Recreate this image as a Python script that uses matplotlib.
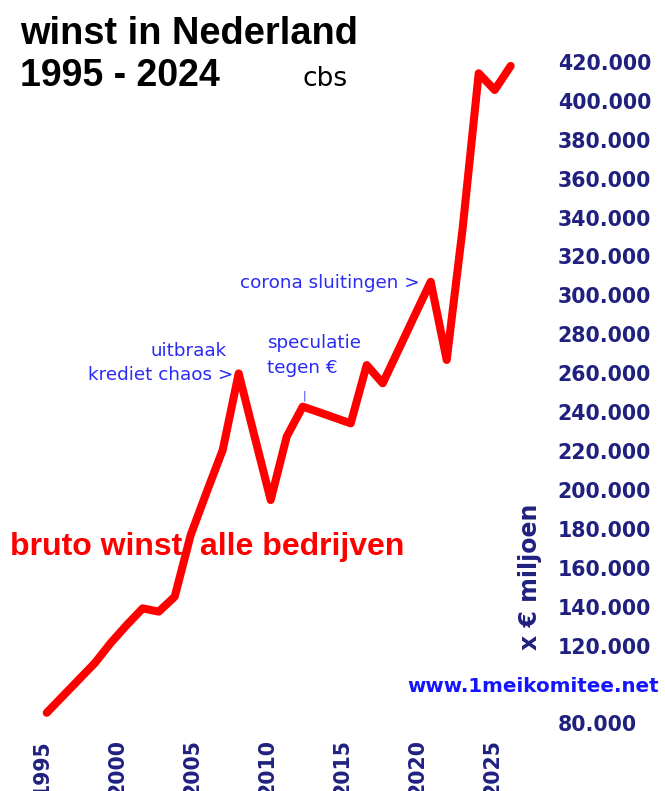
import matplotlib
matplotlib.use("Agg")
import matplotlib.pyplot as plt
from matplotlib.ticker import FixedLocator, FuncFormatter

# ---- data (x € miljoen) ----
years = list(range(1995, 2025))
winst = [85400, 93900, 102400, 110900, 121300, 130500, 139100, 137400, 145100, 176800,
         198900, 220500, 259900, 227200, 194800, 227400, 242800, 240000, 237100, 234200,
         264200, 254800, 272200, 289700, 307000, 266800, 334700, 414200, 405600, 418000]
# 100.000 is hidden behind the website credit in the original
y_ticks = [80000] + list(range(120000, 420001, 20000))
x_tick_labels = [1995, 2000, 2005, 2010, 2015, 2020, 2025]

W, H = 665, 791
fig = plt.figure(figsize=(W / 100, H / 100), dpi=100)
fig.patch.set_facecolor("white")

def fx(px):
    return px / W

def fy(py):
    return 1 - py / H

# axes box in pixels
L, R, T, B = 30, 530, 40, 738
ax = fig.add_axes([fx(L), fy(B), (R - L) / W, (B - T) / H])
ax.set_facecolor("none")

# calibration of the reference (pixels)
x0_px, px_per_year = 46.7, 16.0       # data positions
lx0_px, lpx_per_year = 42.0, 15.0     # tick label positions (category axis)
y420_px, px_per_20k = 62.0, 38.9

ax.set_xlim(1995 - (x0_px - L) / px_per_year, 1995 + (R - x0_px) / px_per_year)
ax.set_ylim(420000 - (B - y420_px) / px_per_20k * 20000,
            420000 + (y420_px - T) / px_per_20k * 20000)

navy = "#20207f"
blue = "#2a2af5"

ax.plot(years, winst, color="#ff0000", lw=5.8, solid_capstyle="round",
        solid_joinstyle="round", zorder=3)

for s in ax.spines.values():
    s.set_visible(False)
ax.yaxis.tick_right()
ax.yaxis.set_major_locator(FixedLocator(y_ticks))
ax.yaxis.set_major_formatter(FuncFormatter(lambda v, p: f"{int(v) // 1000}.000"))
ax.tick_params(axis="y", length=0, pad=20, labelsize=14.8, labelcolor=navy)
for t in ax.get_yticklabels():
    t.set_fontweight("bold")
    t.set_family("DejaVu Sans")
ax.set_xticks([])

# category-style x labels
ax2 = ax.twiny()
ax2.set_xlim(1995 - (lx0_px - L) / lpx_per_year, 1995 + (R - lx0_px) / lpx_per_year)
ax2.xaxis.set_ticks_position("bottom")
ax2.set_xticks(x_tick_labels)
ax2.set_xticklabels([str(v) for v in x_tick_labels], rotation=90,
                    fontsize=14.8, fontweight="bold", color=navy, family="DejaVu Sans")
ax2.tick_params(axis="x", length=0, pad=1)
for s in ax2.spines.values():
    s.set_visible(False)

# titles
fig.text(fx(20), fy(44), "winst in Nederland", fontsize=27.4, fontweight="bold",
         family="Liberation Sans", color="black", va="baseline", ha="left")
fig.text(fx(20), fy(86), "1995 - 2024", fontsize=27, fontweight="bold",
         family="Liberation Sans", color="black", va="baseline", ha="left")
fig.text(fx(302), fy(86), "cbs", fontsize=19, family="DejaVu Sans",
         color="black", va="baseline", ha="left")

# annotations
ann = dict(fontsize=13.2, family="DejaVu Sans", color=blue, va="baseline")
fig.text(fx(227), fy(356), "uitbraak", ha="right", **ann)
fig.text(fx(233), fy(380), "krediet chaos >", ha="right", **ann)
fig.text(fx(267), fy(348), "speculatie", ha="left", **ann)
fig.text(fx(267), fy(373), "tegen €", ha="left", **ann)
fig.text(fx(304), fy(396), "|", ha="center", va="center", fontsize=8,
         family="DejaVu Sans", color=blue)
fig.text(fx(240), fy(288), "corona sluitingen >", ha="left", **ann)

fig.text(fx(10), fy(555), "bruto winst  alle bedrijven", fontsize=23, fontweight="bold",
         family="Liberation Sans", color="#ff0000", va="baseline", ha="left", zorder=4)

fig.text(fx(530), fy(577), "x € miljoen", rotation=90, fontsize=17, fontweight="bold",
         family="DejaVu Sans", color=navy, ha="center", va="center")

fig.text(fx(407), fy(686), "www.1meikomitee.net", fontsize=14.3, fontweight="bold",
         family="DejaVu Sans", color="#1414ff", ha="left", va="center", zorder=10)

fig.savefig("out.png", dpi=100, facecolor="white")
